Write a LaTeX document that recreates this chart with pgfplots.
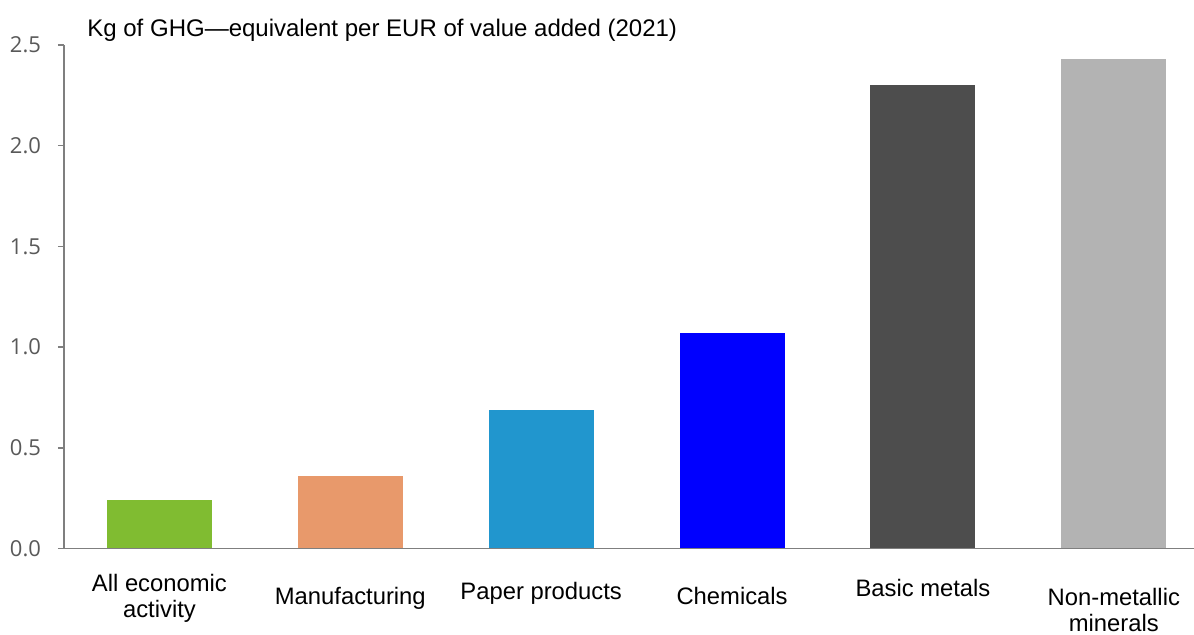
\documentclass[border=0pt]{standalone}
\usepackage{pgfplots}
\pgfplotsset{compat=1.18}
\usepackage{fontspec}
\setmainfont{Liberation Sans}
\newfontfamily\tickfont{Open Sans}
\definecolor{cgreen}{HTML}{80BC31}
\definecolor{corange}{HTML}{E8996B}
\definecolor{cpaper}{HTML}{2196CE}
\definecolor{cchem}{HTML}{0000FF}
\definecolor{cmetal}{HTML}{4D4D4D}
\definecolor{cmineral}{HTML}{B3B3B3}
\definecolor{axisgray}{HTML}{7F7F7F}
\definecolor{ticktext}{HTML}{595959}
\newcommand\Lb[2]{\rule{0pt}{#1pt}#2}
\begin{document}
\begin{tikzpicture}
\begin{axis}[
  scale only axis, width=565pt, height=251.75pt,
  xmin=-0.5, xmax=5.42, ymin=0, ymax=2.5,
  axis lines=left,
  axis line style={-, draw=axisgray, line width=0.75pt},
  xtick={0,1,2,3,4,5},
  xticklabels={{\Lb{18.5}{All economic}\\activity},{\Lb{25}{Manufacturing}},{\Lb{22.5}{Paper products}},{\Lb{25}{Chemicals}},{\Lb{21}{Basic metals}},{\Lb{25.5}{Non-metallic}\\minerals}},
  xticklabel style={font=\fontsize{11.9}{12.75}\selectfont, align=center, anchor=north, inner sep=0pt, text=black},
  x tick style={draw=none},
  ytick={0,0.5,1,1.5,2,2.5},
  tick align=outside, major tick length=3pt,
  y tick style={draw=axisgray, line width=0.75pt},
  yticklabel style={font=\tickfont\fontsize{11}{12}\selectfont, text=ticktext, xshift=-5pt},
  /pgf/number format/.cd, fixed, fixed zerofill, precision=1, assume math mode=true,
  /pgfplots/.cd,
  ybar, bar width=52.5pt,
]
\addplot[fill=cgreen, draw=none, bar shift=0pt] coordinates {(0,0.24)};
\addplot[fill=corange, draw=none, bar shift=0pt] coordinates {(1,0.36)};
\addplot[fill=cpaper, draw=none, bar shift=0pt] coordinates {(2,0.69)};
\addplot[fill=cchem, draw=none, bar shift=0pt] coordinates {(3,1.07)};
\addplot[fill=cmetal, draw=none, bar shift=0pt] coordinates {(4,2.30)};
\addplot[fill=cmineral, draw=none, bar shift=0pt] coordinates {(5,2.43)};
\end{axis}
\node[anchor=base west, inner sep=0pt, font=\fontsize{12}{14}\selectfont] at ([xshift=11.5pt,yshift=4pt]current axis.north west) {Kg of GHG—equivalent per EUR of value added (2021)};
\pgfresetboundingbox
\path (current axis.south west) ++(-32pt,-43.25pt) rectangle ++(597pt,317.5pt);
\end{tikzpicture}
\end{document}
